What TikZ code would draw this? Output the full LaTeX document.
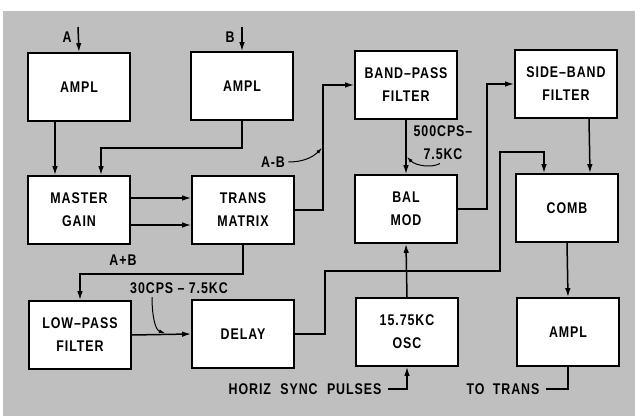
\documentclass[tikz,border=0pt]{standalone}
\usepackage{fontspec}
\setmainfont{Liberation Sans}[FakeStretch=0.8,LetterSpace=6]
\usetikzlibrary{arrows.meta,positioning,calc}

\begin{document}
\begin{tikzpicture}[x=1pt,y=-1pt,>={Latex[length=9pt,width=5.5pt]},
  font=\fontsize{15.5}{23}\selectfont\bfseries,
  blk/.style={draw,line width=1.6pt,fill=white,minimum width=102pt,minimum height=68pt,align=center,inner sep=2pt},
  wire/.style={line width=1.5pt},
  lead/.style={line width=1pt,-{Latex[length=6pt,width=4pt]}}]
  \useasboundingbox (0,0) rectangle (635,419);
  \fill[gray!50] (3,11) rectangle (635,416);
  % blocks
  \node[blk] (ampla) at (79,87) {AMPL};
  \node[blk] (amplb) at (242,86) {AMPL};
  \node[blk] (bpf) at (406,85) {BAND--PASS\\FILTER};
  \node[blk] (sbf) at (566,84) {SIDE--BAND\\FILTER};
  \node[blk] (master) at (79,210) {MASTER\\GAIN};
  \node[blk] (trans) at (243,210) {TRANS\\MATRIX};
  \node[blk] (bal) at (406,209) {BAL\\MOD};
  \node[blk] (comb) at (567,208) {COMB};
  \node[blk] (lpf) at (80,335) {LOW--PASS\\FILTER};
  \node[blk] (delay) at (243,334) {DELAY};
  \node[blk] (osc) at (407,332) {15.75KC\\OSC};
  \node[blk] (amplo) at (568,332) {AMPL};
  % inputs and outputs
  \node (lbla) at (67,37) {A};
  \node (lblb) at (230,37) {B};
  \coordinate (ina) at (78,27);
  \coordinate (inb) at (242,27);
  \node (sync) at (305,389) {HORIZ\hspace{5pt} SYNC\hspace{5pt} PULSES};
  \node (totr) at (503,389) {TO\hspace{4pt} TRANS};
  \draw[wire,->] (ina) -- (ampla.north);
  \draw[wire,->] (inb) -- (amplb.north);
  \draw[wire,->] ([xshift=3pt]sync.east) -| (osc.south);
  \draw[wire] (amplo.south) |- ([xshift=3pt]totr.east);
  % signal paths
  \draw[wire,->] ([xshift=-24pt]ampla.south) -- ([xshift=-24pt]master.north);
  \draw[wire,->] (amplb.south) |- (101,148) -- ([xshift=22pt]master.north);
  \draw[wire,->] ([yshift=12pt]master.east) -- ([yshift=12pt]trans.west);
  \draw[wire,->] ([yshift=-15pt]master.east) -- ([yshift=-15pt]trans.west);
  \draw[wire,->] (trans.east) -- ++(28,0) |- (bpf.west);
  \draw[wire,->] (bpf.south) -- (bal.north);
  \draw[wire,->] (bal.east) -- ++(29,0) |- (sbf.west);
  \draw[wire,->] ([xshift=23pt]sbf.south) -- ([xshift=23pt]comb.north);
  \draw[wire,->] (comb.south) -- (amplo.north);
  \draw[wire,->] (osc.north) -- (bal.south);
  \draw[wire,->] (trans.south) -- ++(0,29) -| (lpf.north);
  \draw[wire,->] (lpf.east) -- (delay.west);
  \draw[wire,->] (delay.east) -| (325,271) -| (500,152) -| ([xshift=-23pt]comb.north);
  % band labels
  \node (lab) at (273,162) {A-B};
  \node (lapb) at (123,260) {A+B};
  \node[align=center] (lbp) at (443,143) {500CPS--\\7.5KC};
  \node (llp) at (179,288) {30CPS -- 7.5KC};
  \coordinate (abpt) at (322,148);
  \coordinate (bppt) at (407,157);
  \coordinate (lppt) at (165,333);
  \draw[lead] (lab.east) .. controls (302,162) and (312,158) .. (abpt);
  \draw[lead] ([xshift=-3pt]lbp.south) .. controls (432,168) and (416,166) .. (bppt);
  \draw[lead] ([xshift=-27pt]llp.south) .. controls (152,315) and (155,330) .. (lppt);
\end{tikzpicture}
\end{document}
